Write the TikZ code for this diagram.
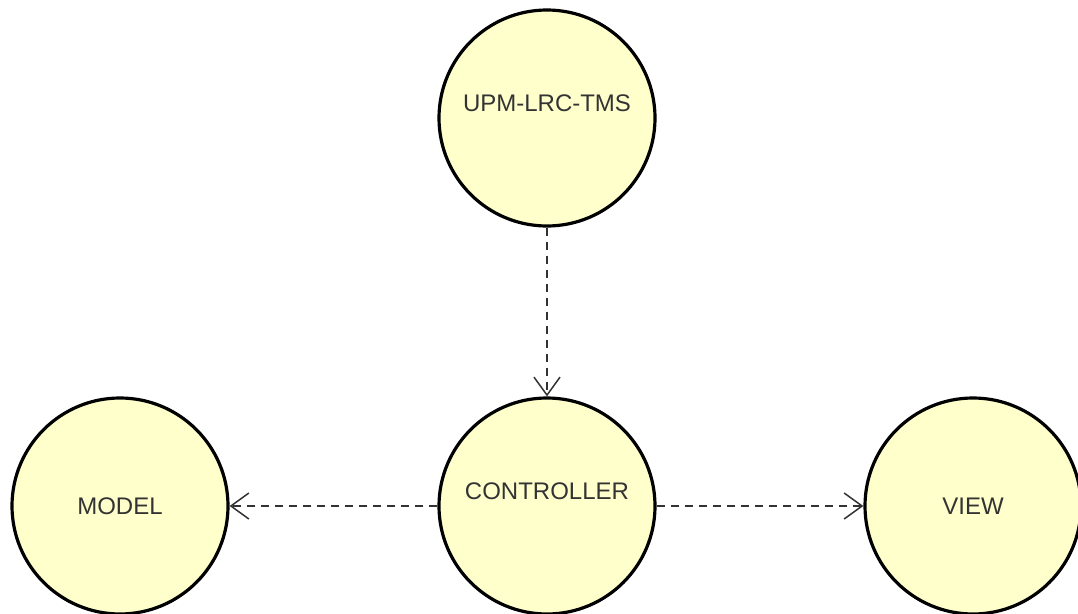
\documentclass[tikz,border=0pt]{standalone}
\usepackage{fontspec}
\setmainfont{Liberation Sans}
\usepackage{tikz}
\usetikzlibrary{positioning,arrows.meta}

\definecolor{bubble}{HTML}{FFFFCC}
\definecolor{ink}{HTML}{333333}

\begin{document}
\begin{tikzpicture}[x=1pt,y=-1pt,->,>={Straight Barb[length=18pt,width=26pt]},
                node distance=427pt,
                comp/.style={circle,draw=black,line width=3.2pt,fill=bubble,
                             minimum size=216pt,inner sep=0pt,text=ink,
                             font=\fontsize{24}{28}\selectfont},
                raised/.style={label={[yshift=15pt,text=ink,
                             font=\fontsize{24}{28}\selectfont]center:#1}},
                dep/.style={draw=ink,line width=1.5pt,dash pattern=on 8pt off 6pt}]

\useasboundingbox (0,0) rectangle (1078,613);

\node[comp,raised={UPM-LRC-TMS}] (upm)   at (547,118)                      {};
\node[comp,raised={CONTROLLER}]  (ctrl)  [below of=upm,node distance=388pt] {};
\node[comp]                      (model) [left of=ctrl]                     {MODEL};
\node[comp]                      (view)  [right of=ctrl,node distance=426pt] {VIEW};

  \path (upm)  edge [dep] (ctrl)
        (ctrl) edge [dep] (model)
        (ctrl) edge [dep] (view)
        ;
\end{tikzpicture}
\end{document}
